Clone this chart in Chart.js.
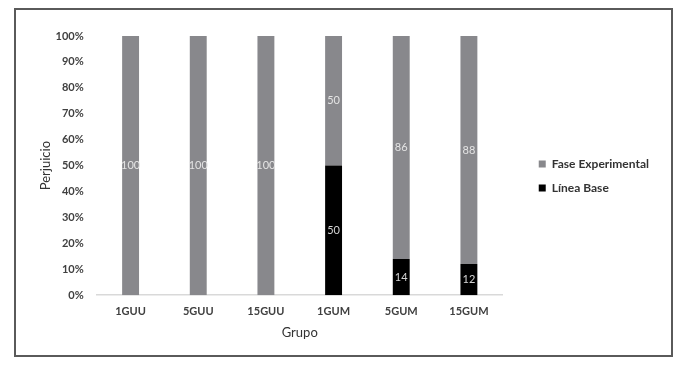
<!DOCTYPE html>
<html>
<head>
<meta charset="utf-8">
<script src="https://cdn.jsdelivr.net/npm/chart.js@4.4.1/dist/chart.umd.min.js"></script>
<style>
    body { margin: 0; background: #fff; }
    #wrap { position: relative; width: 679px; height: 370px; }
    #frame {
        position: absolute; left: 14px; top: 8px;
        width: 655px; height: 345px;
        border: 2px solid #5a5a5a;
        pointer-events: none;
    }
    #chart { position: absolute; left: 0; top: 0; }
</style>
</head>
<body>
<div id="wrap">
    <canvas id="chart" width="679" height="370"></canvas>
    <div id="frame"></div>
</div>
<script>
// Chart data
const groups = ['1GUU', '5GUU', '15GUU', '1GUM', '5GUM', '15GUM'];
const lineaBase = [0, 0, 0, 50, 14, 12];
const faseExperimental = [100, 100, 100, 50, 86, 88];

const FONT = 'Lato, "Open Sans", sans-serif';

// Draw value labels in the middle of each bar segment
const barLabels = {
    id: 'barLabels',
    afterDatasetsDraw(chart) {
        const ctx = chart.ctx;
        ctx.save();
        ctx.font = '11px ' + FONT;
        ctx.textAlign = 'center';
        ctx.textBaseline = 'middle';
        chart.data.datasets.forEach((ds, i) => {
            const meta = chart.getDatasetMeta(i);
            meta.data.forEach((bar, j) => {
                const v = ds.data[j];
                if (!v) return;
                ctx.fillStyle = ds.labelColor;
                ctx.fillText(String(v), bar.x, (bar.y + bar.base) / 2);
            });
        });
        ctx.restore();
    }
};

new Chart(document.getElementById('chart'), {
    type: 'bar',
    data: {
        labels: groups,
        datasets: [{
            label: 'Línea Base',
            data: lineaBase,
            backgroundColor: '#000000',
            labelColor: '#d4d4d4',
            barPercentage: 0.25,
            categoryPercentage: 1
        }, {
            label: 'Fase Experimental',
            data: faseExperimental,
            backgroundColor: '#88888c',
            labelColor: '#e4e4e4',
            barPercentage: 0.25,
            categoryPercentage: 1
        }]
    },
    options: {
        responsive: false,
        animation: false,
        layout: { padding: { left: 38, right: 20, top: 36, bottom: 29 } },
        plugins: {
            tooltip: { enabled: false },
            legend: {
                position: 'right',
                fullSize: false,
                reverse: true,
                maxWidth: 220,
                title: {
                    display: true,
                    text: ' ',
                    padding: 5,
                    font: { size: 11, lineHeight: 1 }
                },
                labels: {
                    boxWidth: 7,
                    boxHeight: 7,
                    padding: 12,
                    color: '#333',
                    font: { family: FONT, size: 12, weight: 'bold' }
                }
            }
        },
        scales: {
            x: {
                stacked: true,
                grid: { display: false, drawTicks: false },
                border: { display: true, color: '#d9d9d9', width: 1.5 },
                ticks: {
                    color: '#404040',
                    padding: 10,
                    font: { family: FONT, size: 11, weight: 'bold' }
                },
                title: {
                    display: true,
                    text: 'Grupo',
                    color: '#333',
                    padding: { top: -3, bottom: 0 },
                    font: { family: FONT, size: 13 }
                }
            },
            y: {
                stacked: true,
                min: 0,
                max: 100,
                grid: { display: false, drawTicks: false },
                border: { display: false },
                ticks: {
                    stepSize: 10,
                    color: '#404040',
                    padding: 13,
                    font: { family: FONT, size: 11, weight: 'bold' },
                    callback: v => v + '%'
                },
                title: {
                    display: true,
                    text: 'Perjuicio',
                    color: '#333',
                    padding: { top: 0, bottom: -11 },
                    font: { family: FONT, size: 13 }
                }
            },
            // empty spacer between plot and legend
            gap: {
                type: 'linear',
                position: 'right',
                display: true,
                grid: { display: false },
                border: { display: false },
                ticks: { display: false },
                afterFit: s => { s.width = 24; }
            }
        }
    },
    plugins: [barLabels]
});
</script>
</body>
</html>
